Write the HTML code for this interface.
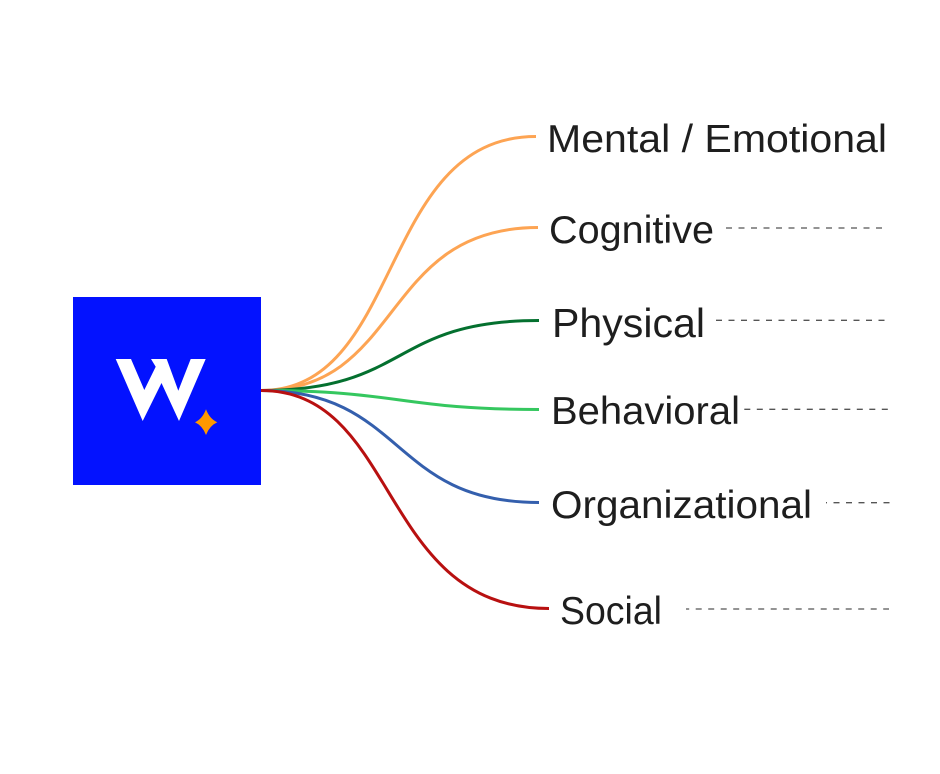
<!DOCTYPE html>
<html><head><meta charset="utf-8"><style>
html,body{margin:0;padding:0;background:#fff}
svg{display:block}
text{font-family:"Liberation Sans",sans-serif;fill:#1e1e1e;font-size:39px}
</style></head><body>
<svg width="940" height="774" viewBox="0 0 940 774" xmlns="http://www.w3.org/2000/svg">
<rect width="940" height="774" fill="#fff"/>
<rect x="73" y="297" width="188" height="188" fill="#0312ff"/>
<polygon points="115.7,359 131,359 144.3,390 155.7,366.7 151,359 166.7,359 178.3,390.7 190.7,359 205.7,359 179,421 161.5,383 142.7,421" fill="#fff"/>
<path d="M206,409.3 Q209.5,418.8 217.3,422.3 Q209.5,425.8 206,435 Q202.5,425.8 195,422.3 Q202.5,418.8 206,409.3Z" fill="#ff9800"/>
<g fill="none" stroke-width="3">
<path d="M261,390.5 C404,390.5 378,136.5 536,136.5" stroke="#fda453"/>
<path d="M261,390.5 C404,390.5 380,227.5 538,227.5" stroke="#fda453"/>
<path d="M261,390.5 C410,390.5 390,320.5 539,320.5" stroke="#04702f"/>
<path d="M261,390.5 C400,390.5 400,409.5 539,409.5" stroke="#35c75f"/>
<path d="M261,390.5 C405,390.5 390,502.5 539,502.5" stroke="#345fad"/>
<path d="M261,390.5 C400,390.5 378,608.5 549,608.5" stroke="#b81010"/>
</g>
<g stroke="#555" stroke-width="1.3" stroke-dasharray="6 6.5" fill="none">
<line x1="726" y1="228" x2="883" y2="228"/>
<line x1="716" y1="320.3" x2="885" y2="320.3"/>
<line x1="744.3" y1="409.3" x2="888" y2="409.3"/>
<line x1="826" y1="502.7" x2="889.5" y2="502.7" stroke-dashoffset="5"/>
<line x1="686" y1="609" x2="889" y2="609" stroke-dashoffset="2.8"/>
</g>
<text x="547" y="152" textLength="340" lengthAdjust="spacingAndGlyphs">Mental / Emotional</text>
<text x="549" y="243" textLength="165" lengthAdjust="spacingAndGlyphs">Cognitive</text>
<text x="552" y="337" textLength="153" lengthAdjust="spacingAndGlyphs" style="font-size:41px">Physical</text>
<text x="551" y="424" textLength="189" lengthAdjust="spacingAndGlyphs">Behavioral</text>
<text x="551" y="518" textLength="261" lengthAdjust="spacingAndGlyphs">Organizational</text>
<text x="560" y="624" textLength="102" lengthAdjust="spacingAndGlyphs">Social</text>
</svg>
</body></html>
